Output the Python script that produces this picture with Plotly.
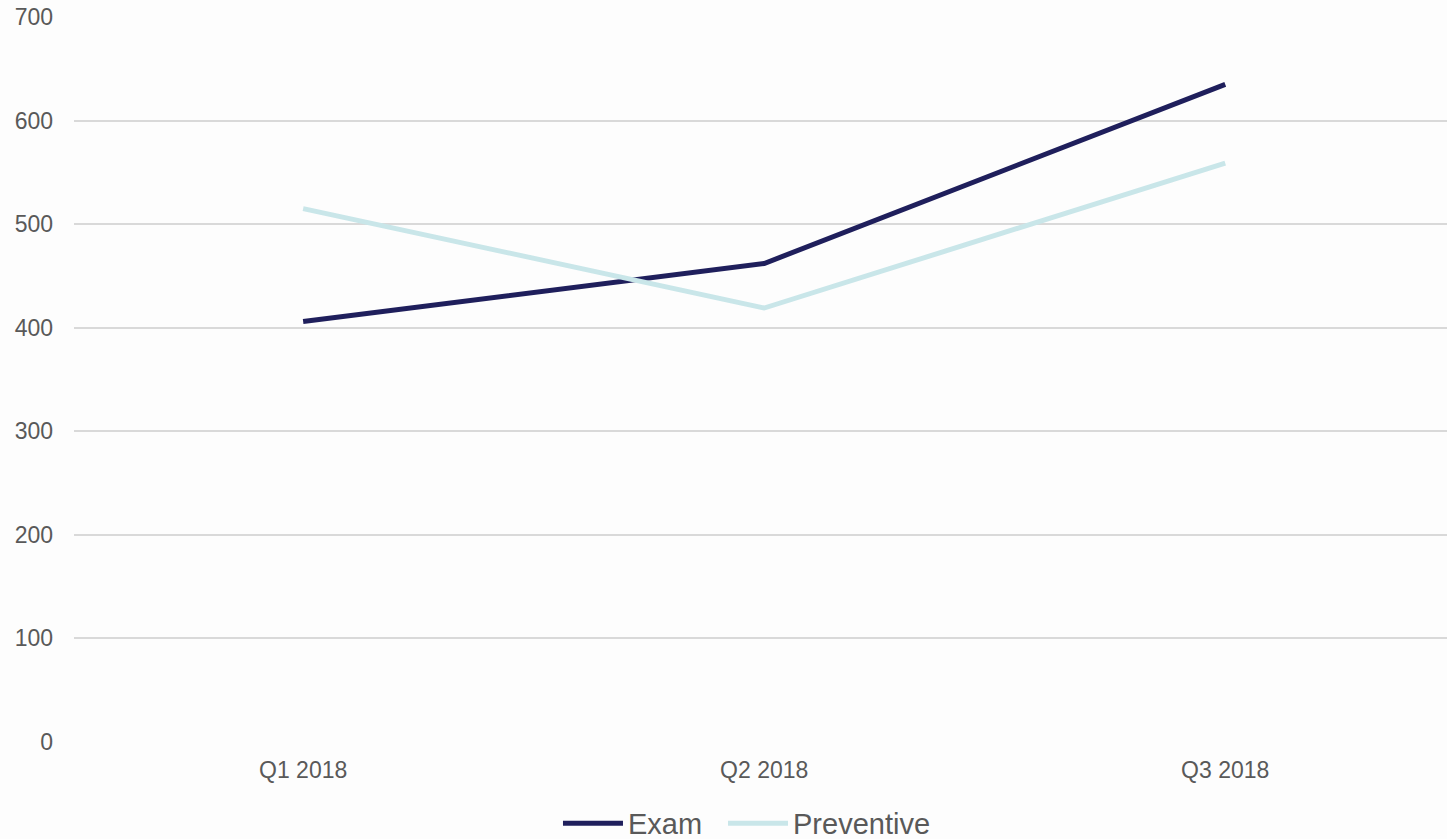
import plotly.graph_objects as go

categories = ["Q1 2018", "Q2 2018", "Q3 2018"]
exam = [406, 462, 635]
preventive = [515, 419, 559]
y_ticks = [0, 100, 200, 300, 400, 500, 600, 700]

fig = go.Figure()
fig.add_trace(go.Scatter(x=categories, y=exam, name="Exam", mode="lines",
                         line=dict(color="#1f1f5c", width=5), legend="legend"))
fig.add_trace(go.Scatter(x=categories, y=preventive, name="Preventive", mode="lines",
                         line=dict(color="#c9e6e9", width=5), legend="legend2"))

leg_common = dict(orientation="h", xanchor="left", xref="paper",
                  y=-0.077, yanchor="top", font=dict(size=29, color="#595959"),
                  itemwidth=60, bgcolor="rgba(0,0,0,0)")

fig.update_layout(
    width=1447, height=839,
    margin=dict(l=74, r=0, t=17, b=97, autoexpand=False),
    paper_bgcolor="#fdfdfd", plot_bgcolor="#fdfdfd",
    font=dict(family="Liberation Sans, Arial, sans-serif", color="#595959", size=24),
    showlegend=True,
    legend=dict(x=0.3525, **leg_common),
    legend2=dict(x=0.4727, **leg_common),
    xaxis=dict(range=[-0.497, 2.481], showgrid=False, zeroline=False, showline=False,
               tickfont=dict(size=23), ticks="", ticklabelstandoff=12, automargin=False),
    yaxis=dict(range=[0, 700], tickvals=y_ticks, showgrid=True, gridcolor="#d9d9d9",
               gridwidth=2, zeroline=False, showline=False, tickfont=dict(size=23),
               ticklabelstandoff=20, automargin=False),
)

fig.write_html("out.html")
